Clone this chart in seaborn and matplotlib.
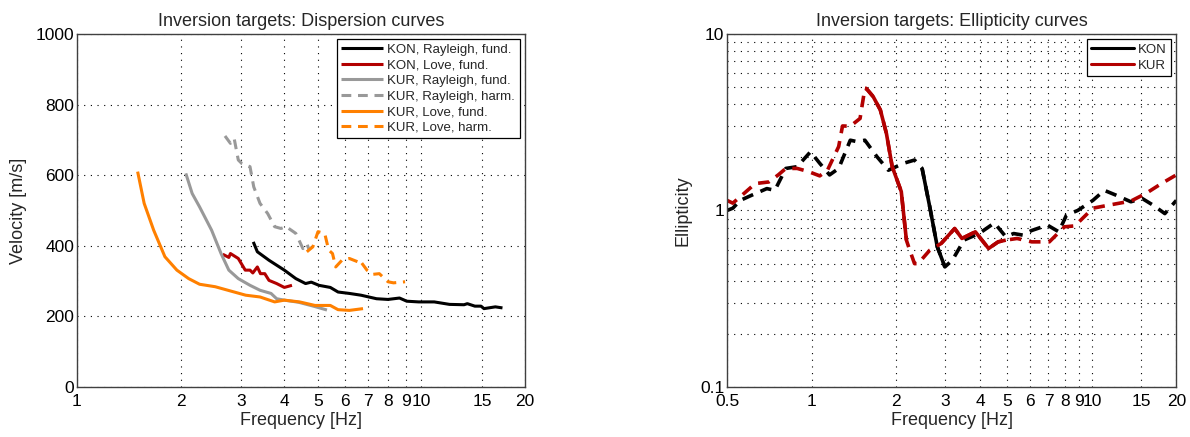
import numpy as np
import pandas as pd
import matplotlib
matplotlib.use("Agg")
import matplotlib.pyplot as plt
import matplotlib.ticker as mticker
from matplotlib.lines import Line2D
import seaborn as sns

# ---------------- Data: dispersion curves ----------------
kon_ray_f = [3.25, 3.34, 3.61, 4.0, 4.32, 4.61, 4.79, 5.04, 5.44, 5.73, 6.18, 6.68, 7.41, 8.0, 8.64, 9.07,
             9.82, 10.9, 12.07, 13.3, 13.6, 14.3, 14.9, 15.2, 16.4, 17.2]
kon_ray_v = [411, 383, 359, 331, 307, 293, 297, 288, 282, 269, 265, 260, 250, 248, 252, 243,
             241, 241, 234, 233, 236, 229, 229, 222, 227, 224]

kon_love_f = [2.65, 2.76, 2.79, 2.94, 3.08, 3.18, 3.24, 3.34, 3.41, 3.51, 3.61, 3.80, 4.0, 4.21]
kon_love_v = [376, 367, 378, 364, 331, 331, 323, 340, 321, 321, 302, 293, 282, 288]

kur_ray_f = [2.07, 2.16, 2.27, 2.46, 2.62, 2.76, 2.94, 3.18, 3.40, 3.66, 3.80, 4.0, 4.4, 4.9, 5.32]
kur_ray_v = [605, 548, 510, 444, 378, 331, 307, 288, 274, 265, 250, 246, 240, 228, 218]

kur_rayh_f = [2.69, 2.79, 2.86, 2.94, 3.01, 3.18, 3.26, 3.40, 3.58, 3.75, 3.91, 4.05, 4.32, 4.53, 4.65, 4.72]
kur_rayh_v = [711, 690, 704, 643, 633, 624, 567, 520, 491, 454, 449, 454, 435, 392, 406, 389]

kur_love_f = [1.50, 1.567, 1.67, 1.80, 1.95, 2.11, 2.27, 2.52, 2.79, 3.09, 3.40, 3.75, 4.0, 4.43, 4.91,
              5.44, 5.73, 6.18, 6.77]
kur_love_v = [610, 520, 444, 369, 331, 307, 291, 284, 272, 260, 255, 241, 246, 241, 231,
              231, 219, 217, 222]

kur_loveh_f = [4.65, 4.84, 5.01, 5.24, 5.38, 5.52, 5.64, 5.88, 6.18, 6.56, 6.62, 6.95, 7.22, 7.55, 8.0, 8.3, 8.97]
kur_loveh_v = [383, 397, 440, 435, 388, 378, 340, 359, 364, 354, 359, 331, 319, 321, 298, 295, 298]

# ---------------- Data: ellipticity curves ----------------
kon_ell_f = [0.5, 0.524, 0.557, 0.612, 0.693, 0.74, 0.81, 0.889, 0.992, 1.07, 1.16, 1.25, 1.375, 1.46,
             1.55, 1.71, 1.88, 2.13, 2.33, 2.48, 2.64, 2.81, 2.99, 3.18, 3.5, 3.96, 4.49, 4.93, 5.26,
             5.67, 6.1, 6.94, 7.62, 8.11, 8.9, 10.08, 11.07, 12.2, 13.77, 15.1, 16.55, 18.2, 20.0]
kon_ell_e = [1.0, 1.03, 1.14, 1.22, 1.33, 1.30, 1.73, 1.77, 2.15, 1.85, 1.59, 1.73, 2.5, 2.45,
             2.5, 2.02, 1.69, 1.85, 1.93, 1.73, 1.05, 0.622, 0.479, 0.523, 0.68, 0.74, 0.85, 0.71, 0.74,
             0.725, 0.77, 0.826, 0.757, 0.94, 1.0, 1.14, 1.30, 1.22, 1.12, 1.17, 1.07, 0.96, 1.14]
kon_solid_ranges = [(2.48, 2.99)]

kur_ell_f = [0.5, 0.524, 0.575, 0.63, 0.704, 0.761, 0.81, 0.889, 0.976, 1.07, 1.14, 1.25, 1.29, 1.375,
             1.49, 1.55, 1.57, 1.66, 1.76, 1.85, 1.94, 2.0, 2.09, 2.18, 2.23, 2.33, 2.4, 2.64, 2.9,
             3.24, 3.44, 3.84, 4.28, 4.63, 4.93, 5.41, 6.1, 7.05, 7.98, 8.7, 10.08, 11.42, 13.77,
             15.6, 17.7, 20.0]
kur_ell_e = [1.14, 1.10, 1.25, 1.42, 1.45, 1.59, 1.73, 1.73, 1.66, 1.57, 1.69, 2.30, 3.01, 3.0,
             3.32, 4.92, 4.9, 4.41, 3.71, 2.73, 1.77, 1.55, 1.28, 0.679, 0.609, 0.50, 0.50, 0.595, 0.65,
             0.79, 0.694, 0.757, 0.609, 0.664, 0.679, 0.694, 0.664, 0.664, 0.808, 0.818, 1.03, 1.07, 1.13,
             1.25, 1.42, 1.59]
kur_solid_ranges = [(1.55, 2.18), (2.9, 4.93)]

disp_xticks = [1, 2, 3, 4, 5, 6, 7, 8, 9, 10, 15, 20]
disp_yticks = [0, 200, 400, 600, 800, 1000]
ell_xticks = [0.5, 1, 2, 3, 4, 5, 6, 7, 8, 9, 10, 15, 20]
ell_yticks = [0.1, 1, 10]

# ---------------- Style ----------------
sns.set_style("white")
plt.rcParams['font.family'] = ['Liberation Sans', 'DejaVu Sans']
plt.rcParams['axes.edgecolor'] = '#404040'
plt.rcParams['axes.linewidth'] = 1.0

BLACK = '#000000'
RED = '#B20000'
GRAY = '#999999'
ORANGE = '#FF8000'
DASH = (3.2, 2.2)
GRID_LS = (0, (1, 5))

fig = plt.figure(figsize=(11.9, 4.37), dpi=100)
ax1 = fig.add_axes([0.0647, 0.1144, 0.3765, 0.808])
ax2 = fig.add_axes([0.611, 0.1144, 0.3775, 0.808])


def line(ax, x, y, color, label=None, dashed=False, lw=2.2):
    df = pd.DataFrame({'x': x, 'y': y})
    sns.lineplot(data=df, x='x', y='y', ax=ax, color=color, linewidth=lw, sort=False,
                 estimator=None, label=label, legend=False)
    l = ax.get_lines()[-1]
    if dashed:
        l.set_dashes(DASH)
    l.set_solid_capstyle('butt')
    l.set_dash_capstyle('butt')
    return l

# ---------------- Left: dispersion ----------------
h = []
h.append(line(ax1, kon_ray_f, kon_ray_v, BLACK, 'KON, Rayleigh, fund.'))
h.append(line(ax1, kon_love_f, kon_love_v, RED, 'KON, Love, fund.'))
h.append(line(ax1, kur_ray_f, kur_ray_v, GRAY, 'KUR, Rayleigh, fund.'))
h.append(line(ax1, kur_rayh_f, kur_rayh_v, GRAY, 'KUR, Rayleigh, harm.', dashed=True))
h.append(line(ax1, kur_love_f, kur_love_v, ORANGE, 'KUR, Love, fund.'))
h.append(line(ax1, kur_loveh_f, kur_loveh_v, ORANGE, 'KUR, Love, harm.', dashed=True))
h[4].set_zorder(3)

ax1.set_xscale('log')
ax1.set_xlim(1, 20)
ax1.set_ylim(0, 1000)
ax1.xaxis.set_major_locator(mticker.FixedLocator(disp_xticks))
ax1.xaxis.set_minor_locator(mticker.NullLocator())
ax1.xaxis.set_major_formatter(mticker.FixedFormatter([str(t) for t in disp_xticks]))
ax1.set_yticks(disp_yticks)
ax1.grid(True, which='major', linestyle=GRID_LS, color='k', linewidth=0.8)
ax1.set_xlabel('Frequency [Hz]', fontsize=13, labelpad=2)
ax1.set_ylabel('Velocity [m/s]', fontsize=13, labelpad=6)
ax1.set_title('Inversion targets: Dispersion curves', fontsize=13, pad=6)
leg1 = ax1.legend(handles=h, loc='upper right', fontsize=9.5, frameon=True, fancybox=False,
                  edgecolor='black', framealpha=1, handlelength=3.2, labelspacing=0.25,
                  borderpad=0.35, handletextpad=0.3, borderaxespad=0.4)
leg1.get_frame().set_linewidth(0.9)

# ---------------- Right: ellipticity ----------------
def split_solid(f, e, ranges):
    segs = []
    for lo, hi in ranges:
        xs = [fi for fi in f if lo - 1e-9 <= fi <= hi + 1e-9]
        ys = [ei for fi, ei in zip(f, e) if lo - 1e-9 <= fi <= hi + 1e-9]
        segs.append((xs, ys))
    return segs

line(ax2, kon_ell_f, kon_ell_e, BLACK, dashed=True, lw=2.6)
for xs, ys in split_solid(kon_ell_f, kon_ell_e, kon_solid_ranges):
    line(ax2, xs, ys, BLACK, lw=2.6)
line(ax2, kur_ell_f, kur_ell_e, RED, dashed=True, lw=2.6)
for xs, ys in split_solid(kur_ell_f, kur_ell_e, kur_solid_ranges):
    line(ax2, xs, ys, RED, lw=2.6)

ax2.set_xscale('log')
ax2.set_yscale('log')
ax2.set_xlim(0.5, 20)
ax2.set_ylim(0.1, 10)
ax2.xaxis.set_major_locator(mticker.FixedLocator(ell_xticks))
ax2.xaxis.set_minor_locator(mticker.NullLocator())
ax2.xaxis.set_major_formatter(mticker.FixedFormatter([str(t) for t in ell_xticks]))
ax2.yaxis.set_major_locator(mticker.FixedLocator(ell_yticks))
ax2.yaxis.set_major_formatter(mticker.FixedFormatter(['0.1', '1', '10']))
ax2.yaxis.set_minor_locator(mticker.LogLocator(base=10, subs=np.arange(2, 10)))
ax2.yaxis.set_minor_formatter(mticker.NullFormatter())
ax2.grid(True, which='both', linestyle=GRID_LS, color='k', linewidth=0.8)
ax2.set_xlabel('Frequency [Hz]', fontsize=13, labelpad=2)
ax2.set_ylabel('Ellipticity', fontsize=13, labelpad=6)
ax2.set_title('Inversion targets: Ellipticity curves', fontsize=13, pad=6)
h2 = [Line2D([], [], color=BLACK, lw=2.2), Line2D([], [], color=RED, lw=2.2)]
leg2 = ax2.legend(h2, ['KON', 'KUR'], loc='upper right', fontsize=9.5, frameon=True, fancybox=False,
                  edgecolor='black', framealpha=1, handlelength=3.2, labelspacing=0.25,
                  borderpad=0.35, handletextpad=0.3, borderaxespad=0.4)
leg2.get_frame().set_linewidth(0.9)

for ax in (ax1, ax2):
    ax.tick_params(axis='both', which='both', direction='in', length=3, width=0.7,
                   labelsize=12.5, colors='k', pad=2)
    ax.tick_params(axis='x', which='major', pad=5)
    ax.tick_params(axis='y', which='minor', length=2)
    for s in ax.spines.values():
        s.set_visible(True)
        s.set_color('#404040')
    ax.set_axisbelow(True)

fig.savefig('out.png', dpi=100)
